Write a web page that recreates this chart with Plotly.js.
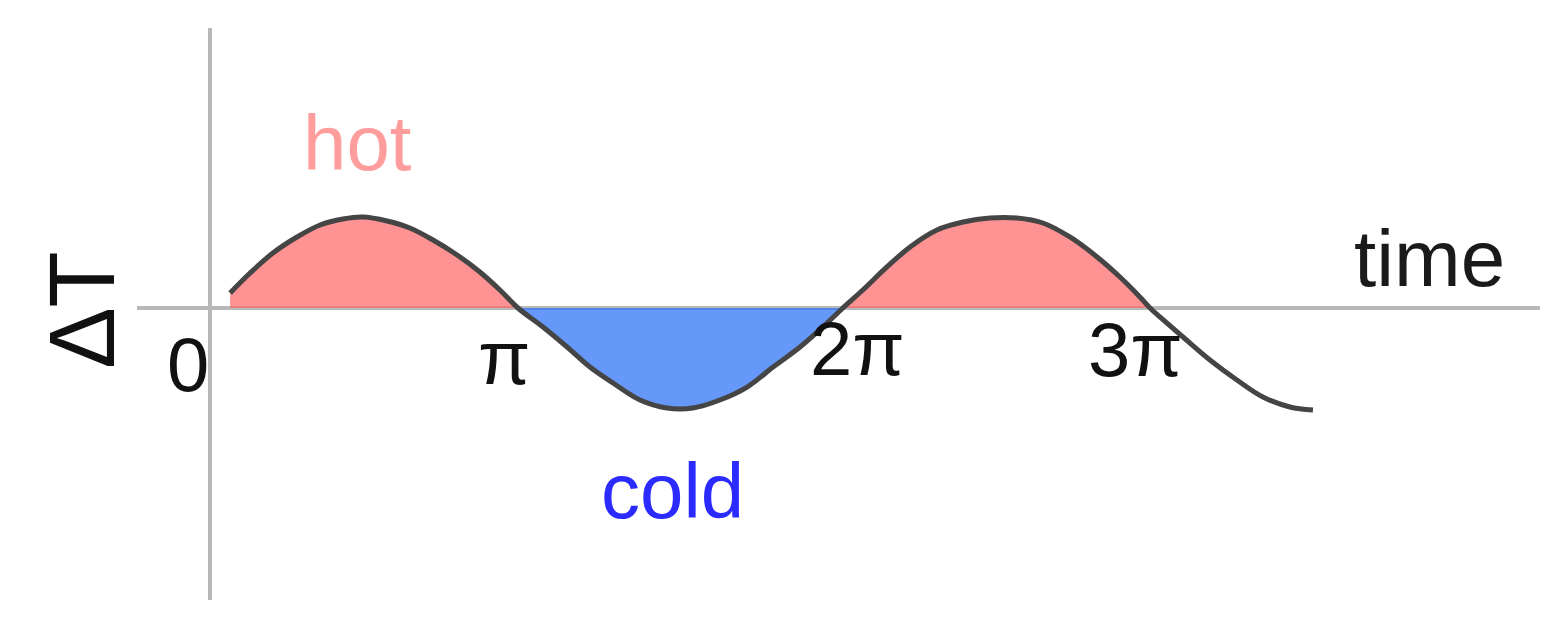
<!DOCTYPE html>
<html>
<head>
<meta charset="utf-8">
<script src="https://cdn.plot.ly/plotly-3.0.1.min.js"></script>
<style>html,body{margin:0;padding:0;background:#fff;}#chart{width:1557px;height:631px;}</style>
</head>
<body>
<div id="chart"></div>
<script>
// time in units of pi, temperature deviation
const timeVals = [0.095, 0.158, 0.230, 0.306, 0.379, 0.451, 0.514, 0.590, 0.662, 0.735, 0.811, 0.883, 0.946, 1.003,
                  1.082, 1.158, 1.230, 1.303, 1.388, 1.473, 1.555, 1.640, 1.726, 1.808, 1.893, 1.978, 2.028,
                  2.091, 2.167, 2.240, 2.325, 2.407, 2.492, 2.577, 2.659, 2.744, 2.830, 2.902, 2.965, 2.997,
                  3.028, 3.101, 3.186, 3.271, 3.353, 3.438, 3.511];
const deltaT   = [0.169, 0.393, 0.618, 0.798, 0.933, 1.000, 1.022, 0.978, 0.899, 0.764, 0.596, 0.404, 0.202, 0,
                  -0.213, -0.438, -0.663, -0.843, -1.034, -1.124, -1.124, -1.034, -0.888, -0.663, -0.438, -0.169, 0,
                  0.202, 0.461, 0.685, 0.876, 0.966, 1.011, 1.011, 0.955, 0.798, 0.573, 0.348, 0.124, 0,
                  -0.101, -0.326, -0.584, -0.809, -1.000, -1.112, -1.146];
const tickVals = [0, 1, 2, 3];
const tickLabels = ['0', 'π', '2π', '3π'];
const regionLabels = ['hot', 'cold'];

// fill segments (hot above zero, cold below) between zero crossings, up to 3π
function segment(from, to) {
  const xs = [], ys = [];
  for (let i = 0; i < timeVals.length; i++) {
    if (timeVals[i] >= from && timeVals[i] <= to) { xs.push(timeVals[i]); ys.push(deltaT[i]); }
  }
  return {xs, ys};
}
const hot1 = segment(0, 1.003), cold1 = segment(1.003, 2.028), hot2 = segment(2.028, 2.997);
function fillTrace(s, color) {
  return {x: s.xs, y: s.ys, type: 'scatter', mode: 'lines', fill: 'tozeroy',
          fillcolor: color, line: {width: 0, shape: 'spline', smoothing: 1, color: color}, hoverinfo: 'skip'};
}
const traces = [
  fillTrace(hot1, 'rgba(255,100,100,0.7)'),
  fillTrace(cold1, 'rgba(51,118,248,0.75)'),
  fillTrace(hot2, 'rgba(255,100,100,0.7)'),
  {x: timeVals, y: deltaT, type: 'scatter', mode: 'lines',
   line: {color: '#454545', width: 5, shape: 'spline', smoothing: 1}, hoverinfo: 'skip'}
];

const font = 'Liberation Sans, Arial, sans-serif';
const tickOffsets = [[-0.038, -0.64], [-0.04, -0.56], [0.075, -0.45], [-0.05, -0.47]];
const annotations = tickLabels.map((t, i) => ({
  x: tickVals[i] + tickOffsets[i][0], y: tickOffsets[i][1], text: t, showarrow: false,
  xanchor: 'center', yanchor: 'middle', font: {family: font, size: 76, color: '#111111'}
}));
annotations.push({x: 0.498, y: 1.85, text: regionLabels[0], showarrow: false,
  font: {family: font, size: 78, color: '#ff9d9d'}});
annotations.push({x: 1.492, y: -2.06, text: regionLabels[1], showarrow: false,
  font: {family: font, size: 78, color: '#2b2bff'}});
annotations.push({x: 3.88, y: 0.56, text: 'time', showarrow: false,
  font: {family: font, size: 80, color: '#1a1a1a'}});
annotations.push({x: -0.372, y: -0.02, text: 'ΔT', showarrow: false, textangle: -90,
  font: {family: font, size: 92, color: '#111111'}});

const layout = {
  width: 1557, height: 631,
  margin: {l: 0, r: 0, t: 0, b: 0},
  paper_bgcolor: '#ffffff', plot_bgcolor: '#ffffff',
  showlegend: false,
  xaxis: {range: [-0.6309, 4.2808], visible: false, fixedrange: true},
  yaxis: {range: [-3.6292, 3.4607], visible: false, fixedrange: true},
  shapes: [
    {type: 'line', x0: 0.0315, x1: 0.0315, y0: 3.146, y1: -3.281, line: {color: '#b8b8b8', width: 4}, layer: 'below'},
    {type: 'line', x0: -0.199, x1: 4.227, y0: 0, y1: 0, line: {color: '#b8b8b8', width: 4}, layer: 'below'}
  ],
  annotations: annotations
};
Plotly.newPlot('chart', traces, layout, {displayModeBar: false, staticPlot: true});
</script>
</body>
</html>
